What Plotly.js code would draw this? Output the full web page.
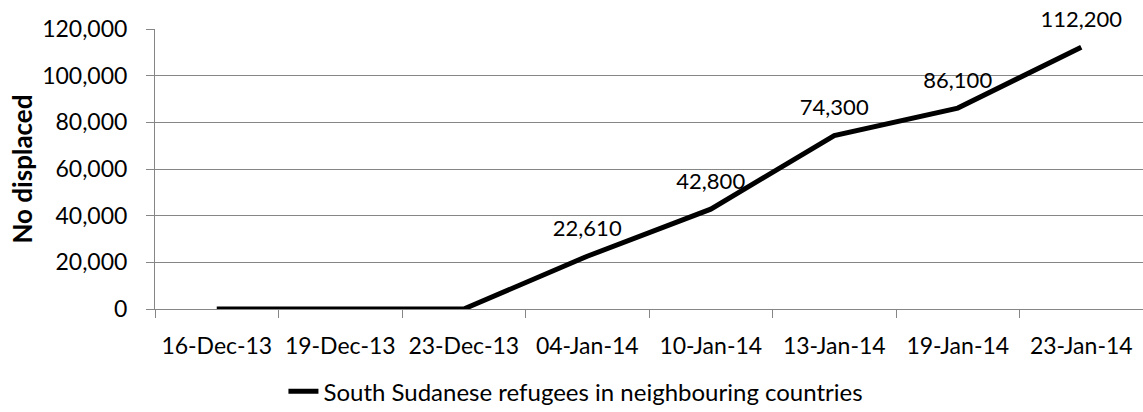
<!DOCTYPE html>
<html>
<head>
<meta charset="utf-8">
<script src="https://cdn.plot.ly/plotly-3.0.1.min.js"></script>
<style>html,body{margin:0;padding:0;background:#fff;}#chart{width:1143px;height:412px;}</style>
</head>
<body>
<div id="chart"></div>
<script>
const categories = ["16-Dec-13","19-Dec-13","23-Dec-13","04-Jan-14","10-Jan-14","13-Jan-14","19-Jan-14","23-Jan-14"];
const refugees = [0, 0, 0, 22610, 42800, 74300, 86100, 112200];
const seriesName = "South Sudanese refugees in neighbouring countries";
const yTickValues = [0, 20000, 40000, 60000, 80000, 100000, 120000];
const yTickLabels = ["0","20,000","40,000","60,000","80,000","100,000","120,000"];

const FONT = "Lato, 'Open Sans', sans-serif";
const labels = refugees.map(v => v > 0 ? v.toLocaleString('en-US') : "");

const trace = {
  x: categories,
  y: refugees,
  type: 'scatter',
  mode: 'lines+markers+text',
  name: seriesName,
  line: {color: '#000000', width: 5},
  marker: {size: 22, color: 'rgba(0,0,0,0)', line: {width: 0}},
  text: labels,
  textposition: 'top center',
  textfont: {family: FONT, size: 22, color: '#000'},
  cliponaxis: false,
  hoverinfo: 'x+y'
};

const layout = {
  width: 1143,
  height: 412,
  margin: {l: 155, r: 0, t: 29, b: 103, pad: 0, autoexpand: false},
  paper_bgcolor: '#fff',
  plot_bgcolor: '#fff',
  font: {family: FONT, size: 22, color: '#000'},
  showlegend: true,
  legend: {
    orientation: 'h',
    x: 0.13, xanchor: 'left',
    y: -0.295, yanchor: 'middle',
    font: {family: FONT, size: 24, color: '#000'},
    bgcolor: 'rgba(0,0,0,0)'
  },
  xaxis: {
    type: 'category',
    range: [-0.5, 7.5],
    tickson: 'boundaries',
    ticks: 'outside',
    ticklen: 8,
    tickcolor: '#868686',
    tickwidth: 1,
    ticklabelstandoff: 16,
    showline: true,
    linecolor: '#868686',
    linewidth: 1,
    showgrid: false,
    zeroline: false,
    tickfont: {family: FONT, size: 23, color: '#000'},
    automargin: false,
    fixedrange: true
  },
  yaxis: {
    range: [0, 120000],
    tickvals: yTickValues,
    ticktext: yTickLabels,
    ticks: 'outside',
    ticklen: 8,
    tickcolor: '#868686',
    tickwidth: 1,
    ticklabelstandoff: 14,
    showline: true,
    linecolor: '#868686',
    linewidth: 1,
    showgrid: true,
    gridcolor: '#868686',
    gridwidth: 1,
    zeroline: false,
    tickfont: {family: FONT, size: 23, color: '#000'},
    title: {text: 'No displaced', font: {family: FONT, size: 26, color: '#000', weight: 'bold'}, standoff: 2},
    automargin: false,
    fixedrange: true
  }
};

Plotly.newPlot('chart', [trace], layout, {displayModeBar: false, staticPlot: true});
</script>
</body>
</html>
